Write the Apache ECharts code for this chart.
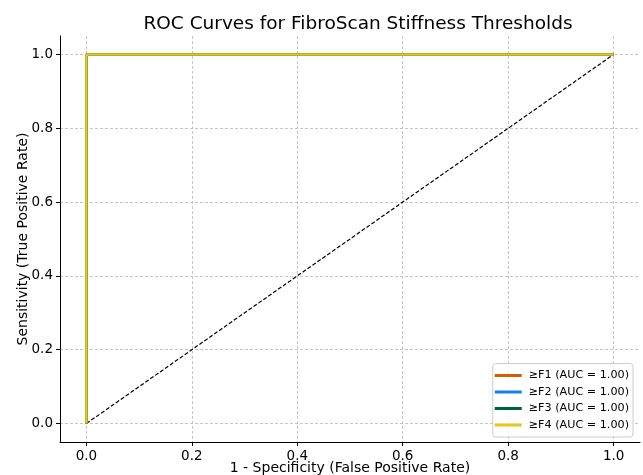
<!DOCTYPE html>
<html>
<head>
<meta charset="utf-8">
<script src="https://cdn.jsdelivr.net/npm/echarts@6/dist/echarts.min.js"></script>
<style>
  html, body { margin: 0; padding: 0; background: #fff; }
  #main { width: 643px; height: 475px; }
</style>
</head>
<body>
<div id="main"></div>
<script>
// ROC data
var seriesNames = ['≥F1 (AUC = 1.00)', '≥F2 (AUC = 1.00)', '≥F3 (AUC = 1.00)', '≥F4 (AUC = 1.00)'];
var seriesColors = ['#d55e00', '#1a80e0', '#00613a', '#e8c61a'];
var fpr = [0, 0, 1];
var tpr = [0, 1, 1];
var diagX = [0, 1];
var diagY = [0, 1];
var tickValues = [0, 0.2, 0.4, 0.6, 0.8, 1.0];

var myChart = echarts.init(document.getElementById('main'));

var font = 'DejaVu Sans';

function axisCfg(name, gap, rotate) {
    return {
        type: 'value',
        min: -0.05,
        max: 1.05,
        name: name,
        nameLocation: 'middle',
        nameGap: gap,
        nameRotate: rotate,
        nameMoveOverlap: false,
        nameTextStyle: { fontFamily: font, fontSize: 14, color: '#000' },
        axisLine: { show: true, onZero: false, lineStyle: { color: '#000', width: 1 } },
        axisTick: { show: true, length: 4, customValues: tickValues, lineStyle: { color: '#000' } },
        axisLabel: {
            customValues: tickValues,
            fontFamily: font, fontSize: 13.5, color: '#000', margin: 7,
            formatter: function (v) { return v.toFixed(1); }
        },
        splitLine: { show: true, lineStyle: { color: '#b8b8b8', type: [3, 2], width: 0.8 } }
    };
}

var series = seriesNames.map(function (n, i) {
    return {
        name: n,
        type: 'line',
        data: fpr.map(function (x, j) { return [x, tpr[j]]; }),
        symbol: 'none',
        lineStyle: { color: seriesColors[i], width: 2.5 },
        itemStyle: { color: seriesColors[i] },
        z: 3 + i
    };
});
series.push({
    name: 'chance',
    type: 'line',
    data: diagX.map(function (x, j) { return [x, diagY[j]]; }),
    symbol: 'none',
    lineStyle: { color: '#000', width: 1.2, type: [4, 2] },
    z: 2,
    silent: true
});

var option = {
    animation: false,
    title: {
        text: 'ROC Curves for FibroScan Stiffness Thresholds',
        left: 353, top: 10, textAlign: 'center',
        textStyle: { fontFamily: font, fontSize: 18.5, fontWeight: 'normal', color: '#000' }
    },
    grid: { left: 60, right: 3, top: 36, bottom: 33, outerBoundsMode: 'none', containLabel: false },
    legend: {
        data: seriesNames,
        orient: 'vertical',
        right: 10,
        bottom: 38,
        icon: 'rect',
        itemWidth: 27,
        itemHeight: 3,
        itemGap: 4.5,
        padding: [6, 4, 6, 2],
        backgroundColor: 'rgba(255,255,255,0.8)',
        borderColor: '#cccccc',
        borderWidth: 1,
        borderRadius: 3,
        textStyle: { fontFamily: font, fontSize: 11.2, color: '#000', lineHeight: 12, padding: [0, 0, 0, 2] }
    },
    xAxis: axisCfg('1 - Specificity (False Positive Rate)', 19, 0),
    yAxis: axisCfg('Sensitivity (True Positive Rate)', 30, 90),
    series: series
};

myChart.setOption(option);
</script>
</body>
</html>
